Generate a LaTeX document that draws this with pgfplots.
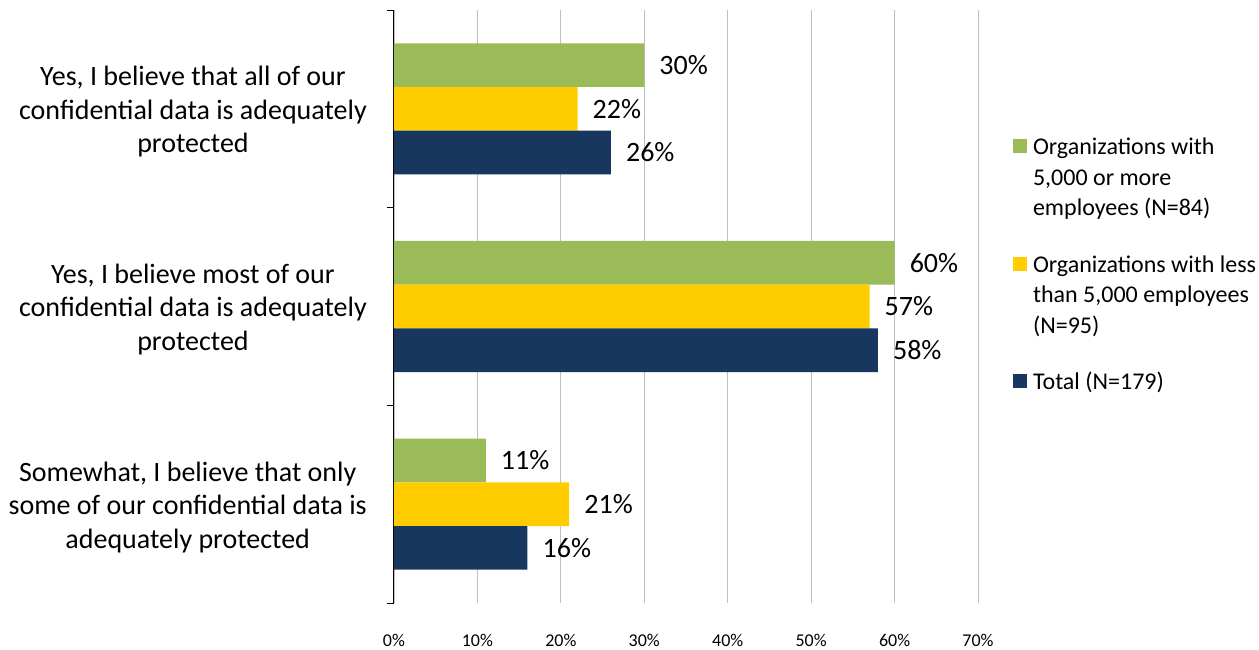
\documentclass[border=0pt]{standalone}
\usepackage{pgfplots}
\pgfplotsset{compat=1.18}
\usepackage{fontspec}
\setmainfont{Carlito}
\definecolor{cgreen}{HTML}{9BBB59}
\definecolor{cyellow}{HTML}{FFCC00}
\definecolor{cnavy}{HTML}{17375E}
\definecolor{cgrid}{HTML}{BFBFBF}
\pgfplotsset{sqlegend/.style={legend image code/.code={\fill[##1] (0pt,1.5pt) rectangle (14pt,15.5pt);}}}
\begin{document}
\begin{tikzpicture}
\useasboundingbox (-394pt,-46pt) rectangle (865pt,603pt);
\begin{axis}[
  at={(0,0)}, anchor=south west,
  scale only axis, width=584pt, height=593pt,
  xbar, bar width=43.7pt,
  xmin=0, xmax=70, ymin=-0.5, ymax=2.5,
  clip=false,
  axis lines*=left,
  x axis line style={draw=none},
  y axis line style={-, black, line width=1pt},
  xtick={0,10,...,70},
  xticklabels={0\%,10\%,20\%,30\%,40\%,50\%,60\%,70\%},
  xtick style={draw=none},
  xmajorgrids, grid style={cgrid, line width=0.8pt},
  xticklabel style={font=\fontsize{18}{20}\selectfont, anchor=center, inner sep=0pt, yshift=-37pt},
  ytick={0,1,2},
  yticklabels={{Somewhat, I believe that only\\some of our confidential data is\\adequately protected},
               {Yes, I believe most of our\\confidential data is adequately\\protected},
               {Yes, I believe that all of our\\confidential data is adequately\\protected}},
  minor ytick={-0.5,0.5,1.5,2.5},
  major tick length=0pt, minor tick length=7pt,
  tick align=outside,
  ytick style={black, line width=1pt},
  yticklabel style={font=\fontsize{28}{33.5}\selectfont, align=center, anchor=east, inner sep=0pt, xshift=-27pt, yshift=-3pt},
  /pgf/number format/assume math mode=true,
  nodes near coords={\pgfmathprintnumber{\pgfplotspointmeta}\%},
  nodes near coords style={font=\fontsize{28}{33}\selectfont, anchor=west, inner sep=0pt, xshift=15pt, black},
  legend style={at={(1.06,0.7916)}, anchor=north west, draw=none, fill=none,
    inner sep=0pt, outer sep=0pt, row sep=26pt, column sep=6pt,
    nodes={inner sep=0pt, text depth=, text height=}, cells={anchor=base west},
    font=\fontsize{24}{30.5}\selectfont},
]
\addplot[fill=cgreen, draw=none, bar shift=43.7pt, sqlegend] coordinates {(30,2) (60,1) (11,0)};
\addlegendentry{\begin{tabular}[t]{@{}l@{}}Organizations with\\5,000 or more\\employees (N=84)\end{tabular}}
\addplot[fill=cyellow, draw=none, bar shift=0pt, sqlegend] coordinates {(22,2) (57,1) (21,0)};
\addlegendentry{\begin{tabular}[t]{@{}l@{}}Organizations with less\\than 5,000 employees\\(N=95)\end{tabular}}
\addplot[fill=cnavy, draw=none, bar shift=-43.7pt, sqlegend] coordinates {(26,2) (58,1) (16,0)};
\addlegendentry{\begin{tabular}[t]{@{}l@{}}Total (N=179)\end{tabular}}
\end{axis}
\end{tikzpicture}
\end{document}
